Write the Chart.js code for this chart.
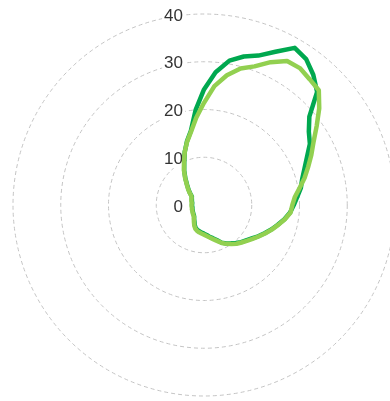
<!DOCTYPE html>
<html>
<head>
<meta charset="utf-8">
<script src="https://cdn.jsdelivr.net/npm/chart.js@4"></script>
<style>
    html, body { margin: 0; padding: 0; background: #fff; overflow: hidden; width: 390px; height: 401px; }
    #chart { position: absolute; left: 0; top: 0; }
</style>
</head>
<body>
<canvas id="chart" width="400" height="410"></canvas>
<script>
// Angles around the radar (degrees, clockwise from top)
const angles = ['0','5','10','15','20','25','30','35','40','45','50','55',
    '60','65','70','75','80','85','90','95','100','105','110','115',
    '120','125','130','135','140','145','150','155','160','165','170','175',
    '180','185','190','195','200','205','210','215','220','225','230','235',
    '240','245','250','255','260','265','270','275','280','285','290','295',
    '300','305','310','315','320','325','330','335','340','345','350','355'];

// Dark green series
const darkValues = [24.2, 27.9, 30.7, 32.2, 33.3, 35.4, 38.0, 37.3, 35.6, 33.5, 28.8, 26.8,
    25.6, 23.8, 22.4, 21.3, 20.6, 19.6, 18.8, 18.1, 17.1, 16.0, 15.0, 14.0,
    13.1, 12.2, 11.5, 11.0, 10.4, 9.8, 9.3, 8.7, 7.8, 7.2, 6.8, 6.3,
    6.0, 5.8, 5.6, 5.4, 5.1, 4.6, 4.0, 3.6, 3.2, 3.0, 2.9, 2.8,
    2.7, 2.6, 2.6, 2.5, 2.5, 2.5, 2.5, 2.5, 2.5, 2.6, 2.7, 2.8,
    2.95, 3.1, 3.8, 4.6, 5.5, 6.8, 8.3, 9.8, 11.8, 13.8, 15.8, 20.0];

// Light green series
const lightValues = [21.4, 25.0, 27.6, 29.6, 30.9, 33.0, 34.8, 35.0, 34.4, 34.0, 31.5, 28.8,
    26.5, 24.8, 23.2, 21.8, 20.3, 19.1, 18.5, 18.2, 17.2, 16.1, 15.1, 14.1,
    13.2, 12.4, 11.7, 11.1, 10.6, 10.0, 9.4, 8.8, 8.0, 7.4, 6.9, 6.5,
    6.2, 6.0, 5.8, 5.6, 5.3, 4.8, 4.2, 3.7, 3.3, 3.1, 3.0, 2.9,
    2.8, 2.7, 2.7, 2.6, 2.6, 2.6, 2.6, 2.6, 2.6, 2.7, 2.8, 2.9,
    3.0, 3.2, 3.9, 4.7, 5.6, 6.9, 8.4, 9.9, 11.8, 13.7, 15.6, 18.4];

// Radial tick labels
const tickValues = [0, 10, 20, 30, 40];
const tickLabels = ['0', '10', '20', '30', '40'];

// Draw tick labels left of the centre, like the original
const tickLabelPlugin = {
    id: 'tickLabels',
    beforeDatasetsDraw(chart) {
        const scale = chart.scales.r;
        const ctx = chart.ctx;
        ctx.save();
        ctx.font = '17px "Liberation Sans", Arial, sans-serif';
        ctx.textAlign = 'right';
        ctx.textBaseline = 'middle';
        tickValues.forEach((v, i) => {
            const y = scale.yCenter - scale.getDistanceFromCenterForValue(v) + 2;
            const x = scale.xCenter - 21;
            const w = ctx.measureText(tickLabels[i]).width;
            ctx.fillStyle = '#ffffff';
            ctx.fillRect(x - w - 2, y - 9, w + 4, 18);
            ctx.fillStyle = '#333333';
            ctx.fillText(tickLabels[i], x, y);
        });
        ctx.restore();
    }
};

const ctx = document.getElementById('chart').getContext('2d');
new Chart(ctx, {
    type: 'radar',
    data: {
        labels: angles,
        datasets: [
            {
                label: 'Dark',
                data: darkValues,
                borderColor: '#00a84f',
                borderWidth: 4.5,
                pointRadius: 0,
                fill: false,
                tension: 0,
                borderJoinStyle: 'round',
                order: 2
            },
            {
                label: 'Light',
                data: lightValues,
                borderColor: '#92d050',
                borderWidth: 4.5,
                pointRadius: 0,
                fill: false,
                tension: 0,
                borderJoinStyle: 'round',
                order: 1
            }
        ]
    },
    options: {
        responsive: false,
        animation: false,
        devicePixelRatio: 1,
        layout: { padding: { left: 13, top: 14, right: 5, bottom: 14 } },
        plugins: {
            legend: { display: false },
            tooltip: { enabled: false }
        },
        scales: {
            r: {
                min: 0,
                max: 40,
                ticks: { display: false, stepSize: 10 },
                pointLabels: { display: false },
                angleLines: { display: false },
                grid: { circular: true, color: '#c4c4c4', lineWidth: 1 },
                border: { dash: [4, 3] }
            }
        }
    },
    plugins: [tickLabelPlugin]
});
</script>
</body>
</html>
